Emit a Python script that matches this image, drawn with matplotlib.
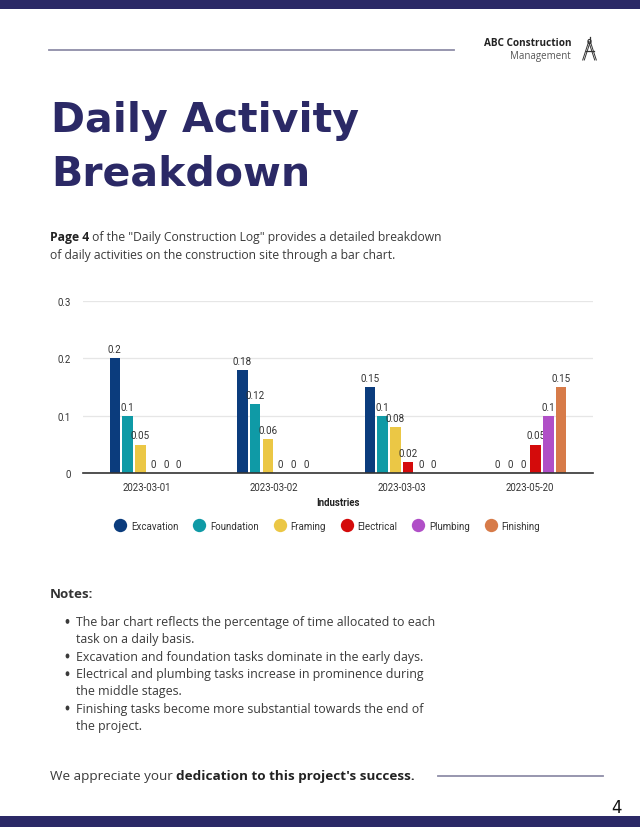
import matplotlib
matplotlib.use("Agg")
import matplotlib.pyplot as plt
import numpy as np
from matplotlib.lines import Line2D
from matplotlib.patches import Rectangle, Circle
from matplotlib.text import Annotation

# ---------------- data ----------------
dates = ["2023-03-01", "2023-03-02", "2023-03-03", "2023-05-20"]
tasks = ["Excavation", "Foundation", "Framing", "Electrical", "Plumbing", "Finishing"]
excavation = [0.2, 0.18, 0.15, 0]
foundation = [0.1, 0.12, 0.1, 0]
framing = [0.05, 0.06, 0.08, 0]
electrical = [0, 0, 0.02, 0.05]
plumbing = [0, 0, 0, 0.1]
finishing = [0, 0, 0, 0.15]
y_ticks = [0, 0.1, 0.2, 0.3]
y_tick_labels = ["0", "0.1", "0.2", "0.3"]
task_colors = ["#0b3c7d", "#0f9aa6", "#ebc745", "#d40b0b", "#b04fc7", "#d77b49"]

notes = [
    ["The bar chart reflects the percentage of time allocated to each",
     "task on a daily basis."],
    ["Excavation and foundation tasks dominate in the early days."],
    ["Electrical and plumbing tasks increase in prominence during",
     "the middle stages."],
    ["Finishing tasks become more substantial towards the end of",
     "the project."],
]

NAVY = "#2b2966"
BODY = "Open Sans"
CHART = "Roboto"

W, H = 640, 828
fig = plt.figure(figsize=(6.4, 8.28), dpi=100)
fig.patch.set_facecolor("white")


def fx(x):
    return x / W


def fy(y):
    return 1 - y / H


# ---------------- page decoration ----------------
fig.add_artist(Rectangle((0, fy(10)), 1, 10 / H, transform=fig.transFigure,
                         color=NAVY, lw=0))
fig.add_artist(Rectangle((0, 0), 1, 11 / H, transform=fig.transFigure,
                         color=NAVY, lw=0))
fig.add_artist(Line2D([fx(49), fx(454)], [fy(50.5), fy(50.5)],
                      transform=fig.transFigure, color="#8f8ea8", lw=1.3))
fig.add_artist(Line2D([fx(438), fx(603)], [fy(776.5), fy(776.5)],
                      transform=fig.transFigure, color="#8f8ea8", lw=1.3))

# header
fig.text(fx(571), fy(44), "ABC Construction", ha="right", va="center",
         fontsize=7.2, fontweight="bold", family=BODY, color="#222222")
fig.text(fx(571), fy(56), "Management", ha="right", va="center",
         fontsize=7.0, family=BODY, color="#555555")

# logo (drafting compass)
lc = "#333333"
for dx in (-0.8, 0.8):
    fig.add_artist(Line2D([fx(589.5 + dx), fx(583.5 + dx)], [fy(42.5), fy(61)],
                          transform=fig.transFigure, color=lc, lw=0.7))
    fig.add_artist(Line2D([fx(589.5 + dx), fx(595.5 + dx)], [fy(42.5), fy(61)],
                          transform=fig.transFigure, color=lc, lw=0.7))
fig.add_artist(Line2D([fx(585.5), fx(593.5)], [fy(52), fy(52)],
                      transform=fig.transFigure, color=lc, lw=0.9))
fig.add_artist(Line2D([fx(589.5), fx(589.5)], [fy(37.5), fy(41)],
                      transform=fig.transFigure, color=lc, lw=0.9))
fig.add_artist(Circle((fx(589.5), fy(42.5)), 1.6 / W, transform=fig.transFigure,
                      fill=False, ec=lc, lw=0.8))

# title
fig.text(fx(51), fy(131.7), "Daily Activity", ha="left", va="baseline",
         fontsize=29.5, fontweight="bold", family="DejaVu Sans", color=NAVY)
fig.text(fx(51), fy(185), "Breakdown", ha="left", va="baseline",
         fontsize=29.5, fontweight="bold", family="DejaVu Sans", color=NAVY)


def mixed(x, y, parts, size):
    prev = None
    for s, bold, col in parts:
        kw = dict(fontsize=size, family=BODY, color=col,
                  fontweight="bold" if bold else "normal")
        if prev is None:
            prev = fig.text(fx(x), fy(y), s, ha="left", va="baseline", **kw)
        else:
            a = Annotation(s, xy=(1, 0), xycoords=prev, ha="left", va="bottom", **kw)
            fig.add_artist(a)
            prev = a


# intro paragraph
mixed(50, 241, [("Page 4", True, "#222222"),
                (' of the "Daily Construction Log" provides a detailed breakdown', False, "#3a3a3a")], 8.7)
fig.text(fx(50), fy(259), "of daily activities on the construction site through a bar chart.",
         ha="left", va="baseline", fontsize=8.7, family=BODY, color="#3a3a3a")

# notes
fig.text(fx(50), fy(598), "Notes:", ha="left", va="baseline", fontsize=9.6,
         fontweight="bold", family=BODY, color="#333333")
line_y = [622.7, 640, 657.3, 675, 691.7, 709.3, 726.7]
k = 0
for note in notes:
    for j, line in enumerate(note):
        yy = line_y[k]
        if j == 0:
            fig.add_artist(Circle((fx(67.5), fy(yy - 0.3)), 1.9 / W,
                                  transform=fig.transFigure, color="#3a3a3a", lw=0))
        fig.text(fx(76), fy(yy), line, ha="left", va="center",
                 fontsize=8.95, family=BODY, color="#3a3a3a")
        k += 1

# footer
mixed(50, 780.5, [("We appreciate your ", False, "#3a3a3a"),
                  ("dedication to this project's success.", True, "#222222")], 9.7)
fig.text(fx(622), fy(808), "4", ha="right", va="center", fontsize=12,
         family="DejaVu Sans", color="#111111")

# ---------------- chart ----------------
ax = fig.add_axes([fx(83), fy(474.3), fx(593) - fx(83), (474.3 - 301.7) / H])
series = [excavation, foundation, framing, electrical, plumbing, finishing]
x = np.arange(len(dates))
slot = 0.1
bw = 0.084
for i, (name, vals, col) in enumerate(zip(tasks, series, task_colors)):
    bars = ax.bar(x + (i - 2.5) * slot, vals, bw, color=col, label=name, zorder=3)
    ax.bar_label(bars, labels=[f"{v:g}" for v in vals], padding=3,
                 fontsize=7.1, family=CHART, color="#333333")

ax.set_xlim(-0.5, 3.5)
ax.set_ylim(0, 0.3)
ax.set_yticks(y_ticks)
ax.set_yticklabels(y_tick_labels)
ax.set_xticks(x)
ax.set_xticklabels(dates)
for lab in ax.get_xticklabels() + ax.get_yticklabels():
    lab.set_fontfamily(CHART)
    lab.set_fontsize(6.9)
    lab.set_color("#333333")
ax.tick_params(axis="both", length=0)
ax.tick_params(axis="y", pad=8.5)
ax.tick_params(axis="x", pad=6)
ax.yaxis.grid(True, color="#e6e6e6", lw=0.9, zorder=0)
ax.set_axisbelow(True)
for s in ("top", "right", "left"):
    ax.spines[s].set_visible(False)
ax.spines["bottom"].set_color("#333333")
ax.spines["bottom"].set_linewidth(1.2)
ax.spines["bottom"].set_zorder(4)
ax.set_xlabel("Industries", fontsize=6.9, fontweight="bold", family=CHART,
              color="#222222", labelpad=4)

handles = [Line2D([], [], marker="o", ls="none", markersize=9.6, color=c,
                  markeredgewidth=0) for c in task_colors]
fig.legend(handles, tasks, loc="center", bbox_to_anchor=(fx(327), fy(526.7)),
           ncol=6, frameon=False, prop={"family": CHART, "size": 7},
           handlelength=1.3, handletextpad=0.45, columnspacing=1.5,
           labelcolor="#333333")

fig.savefig("out.png", dpi=100, facecolor="white")
